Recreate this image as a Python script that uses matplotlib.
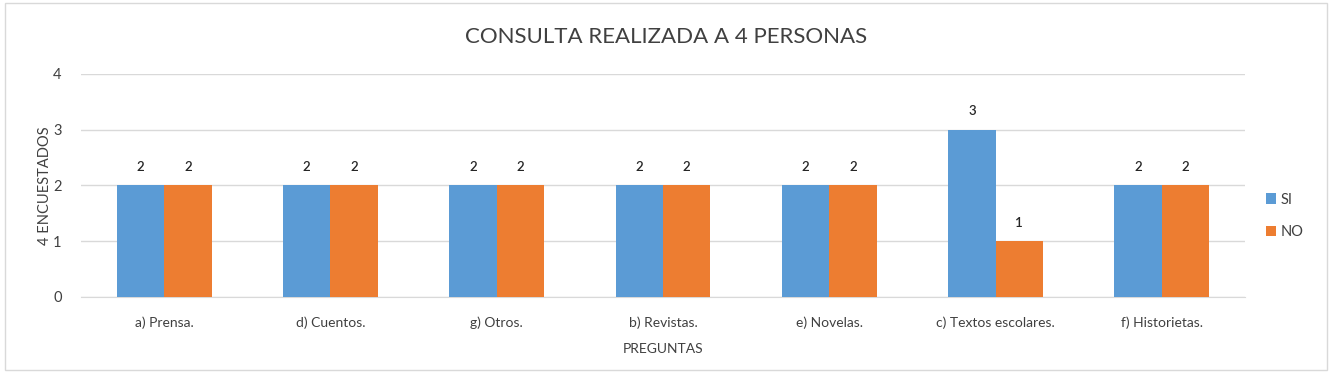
import matplotlib
matplotlib.use("Agg")
import matplotlib.pyplot as plt
import numpy as np
from matplotlib.patches import Rectangle

categories = ["a) Prensa.", "d) Cuentos.", "g) Otros.", "b) Revistas.", "e) Novelas.",
              "c) Textos escolares.", "f) Historietas."]
si_values = [2, 2, 2, 2, 2, 3, 2]
no_values = [2, 2, 2, 2, 2, 1, 2]
yticks = [0, 1, 2, 3, 4]

plt.rcParams['font.family'] = ['Lato', 'DejaVu Sans']

W, H = 1342, 374
fig = plt.figure(figsize=(W / 100, H / 100), dpi=100)
ax = fig.add_axes([81 / W, 1 - 297 / H, (1245 - 81) / W, (297 - 74) / H])

blue = "#5B9BD5"
orange = "#ED7D31"
txt = "#404040"
x = np.arange(len(categories))
bw = 0.285
b1 = ax.bar(x - bw / 2, si_values, bw, color=blue, label="SI", zorder=3)
b2 = ax.bar(x + bw / 2, no_values, bw, color=orange, label="NO", zorder=3)

for bars in (b1, b2):
    for r in bars:
        ax.annotate(f"{int(r.get_height())}", (r.get_x() + r.get_width() / 2, r.get_height()),
                    xytext=(0, 9), textcoords="offset points", ha="center", va="bottom",
                    fontsize=9.5, color="#262626", fontweight="semibold")

ax.set_xlim(-0.5, len(categories) - 0.5)
ax.set_ylim(0, 4)
ax.set_yticks(yticks)
ax.set_xticks(x)
ax.set_xticklabels(categories, fontsize=10, color=txt)
ax.tick_params(axis="y", labelsize=10.5, colors=txt, length=0, pad=14)
ax.tick_params(axis="x", length=0, pad=14)
ax.grid(axis="y", color="#D9D9D9", linewidth=1, zorder=0)
for s in ("top", "right", "left"):
    ax.spines[s].set_visible(False)
ax.spines["bottom"].set_color("#D9D9D9")

ax.set_xlabel("PREGUNTAS", fontsize=10, color=txt, labelpad=10)
ax.set_ylabel("4 ENCUESTADOS", fontsize=10.5, color=txt, labelpad=1)

fig.text(0.5 * (463 + 870) / W, 1 - 37 / H, "CONSULTA REALIZADA A 4 PERSONAS",
         ha="center", va="center", fontsize=16, color=txt)

leg = fig.legend(handles=[b1, b2], labels=["SI", "NO"], loc="center left",
                 bbox_to_anchor=(1266 / W, 1 - 216 / H), frameon=False,
                 fontsize=10.5, handlelength=0.7, handleheight=0.7, handletextpad=0.3,
                 labelspacing=1.3, borderpad=0, borderaxespad=0)
for t in leg.get_texts():
    t.set_color(txt)

fig.patches.append(Rectangle((5 / W, 1 - 370 / H), (1327 - 5) / W, (370 - 3) / H,
                             transform=fig.transFigure, fill=False,
                             edgecolor="#D9D9D9", linewidth=1))

fig.savefig("out.png", dpi=100)
